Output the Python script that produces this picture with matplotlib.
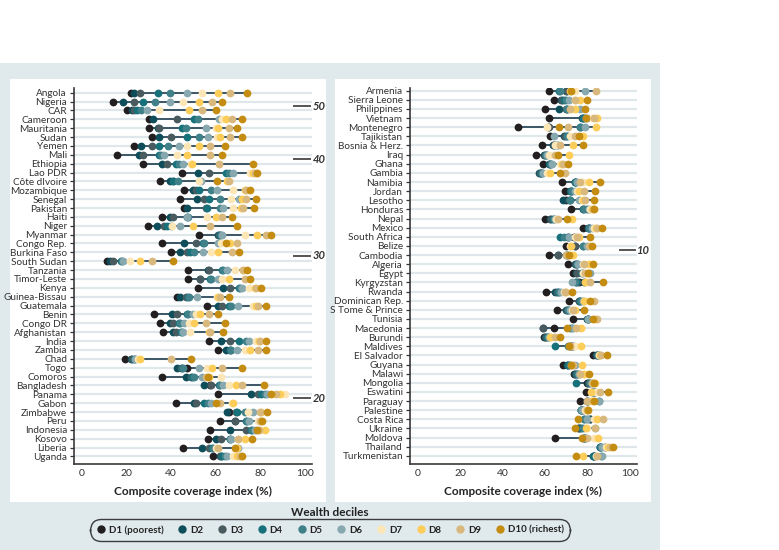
import matplotlib
matplotlib.use("Agg")
import matplotlib.pyplot as plt
from matplotlib.patches import Rectangle
from matplotlib.lines import Line2D

plt.rcParams['font.family'] = ['Lato', 'DejaVu Sans']

# decile colours, D1 (poorest) .. D10 (richest)
decile_labels = ['D1 (poorest)', 'D2', 'D3', 'D4', 'D5', 'D6', 'D7', 'D8', 'D9', 'D10 (richest)']
decile_colors = ['#231f20', '#0e4d5a', '#4a5b60', '#17717b', '#3f8089', '#86a8ae',
                 '#fde6b6', '#fdcd5a', '#d8b87c', '#c48d12']

left_names = ['Angola', 'Nigeria', 'CAR', 'Cameroon', 'Mauritania', 'Sudan', 'Yemen', 'Mali',
              'Ethiopia', 'Lao PDR', 'Côte dIvoire', 'Mozambique', 'Senegal', 'Pakistan',
              'Haiti', 'Niger', 'Myanmar', 'Congo Rep.', 'Burkina Faso', 'South Sudan',
              'Tanzania', 'Timor-Leste', 'Kenya', 'Guinea-Bissau', 'Guatemala', 'Benin',
              'Congo DR', 'Afghanistan', 'India', 'Zambia', 'Chad', 'Togo', 'Comoros',
              'Bangladesh', 'Panama', 'Gabon', 'Zimbabwe', 'Peru', 'Indonesia', 'Kosovo',
              'Liberia', 'Uganda']
# one row per country, D1..D10
left_vals = [
    [22, 23.5, 26, 34, 39.5, 47, 54, 61, 66.5, 74],
    [14, 18.5, 23.5, 27.5, 33, 39.5, 45.5, 52.5, 58.5, 63],
    [20, 22.5, 23.5, 24.5, 26.5, 29, 34.5, 48, 54, 60],
    [30, 32, 42.5, 50.5, 52, 61.5, 63, 64.5, 67.5, 72],
    [30, 34, 34.5, 45, 46.5, 55.5, 60, 61, 66, 69.5],
    [31.5, 34.5, 40, 47, 52.5, 56.5, 60.5, 62, 66.5, 72],
    [23.5, 26.5, 31.5, 34.5, 38.5, 43.5, 47, 52.5, 57.5, 64],
    [15.5, 25.5, 27.5, 34.5, 35.5, 37, 42.5, 47, 57.5, 63],
    [27.5, 36, 38, 42, 43.5, 45.5, 49, 49.5, 61.5, 77],
    [45, 52, 57, 64.5, 66, 68, 75.5, 77, 77.5, 78.5],
    [35, 39.5, 41, 41, 43, 53.5, 52.5, 65, 66, 60.7],
    [46, 50, 51, 52.5, 58, 60.5, 68, 73, 73.5, 75.5],
    [44, 51.5, 55, 57, 62, 70.5, 67, 72, 73.5, 78],
    [46, 47, 55.5, 56, 62, 63.5, 68, 71.5, 72.5, 77.2],
    [36, 39.5, 41, 47, 47.5, 47, 56, 60, 63, 67.5],
    [29.5, 33.5, 37, 38, 40, 44, 40.5, 50, 57.5, 69.5],
    [52.5, 61, 61.5, 62, 62.5, 63, 73, 78.5, 82.5, 85],
    [36, 46, 51, 54.5, 55, 61, 62.5, 66.5, 69.5, 64.5],
    [40, 44, 47, 48.5, 50.5, 54.5, 58, 61, 67.5, 70.5],
    [11, 12.5, 14, 17.5, 18, 18.5, 21.5, 26, 31.5, 41],
    [47.5, 56.5, 57, 63, 63.5, 65, 68.5, 72.5, 72.5, 74],
    [47.5, 53, 53, 57.5, 58, 61, 63, 66, 73, 75.5],
    [52, 63.5, 66.5, 70.5, 71, 72, 75, 77.5, 78, 80.5],
    [42.5, 44, 46.5, 47.5, 48, 51.5, 60.5, 61, 62, 66],
    [56, 61, 63, 66, 67, 70, 77, 78, 79, 82.5],
    [32.5, 40.3, 42.5, 47, 47.5, 50, 51, 53, 57, 61.3],
    [35, 39.5, 41, 43.5, 44, 46, 48, 50.5, 55.5, 64],
    [36.5, 41, 42, 44.5, 45, 45.5, 48.5, 57, 57.5, 63.5],
    [57, 62.5, 66.5, 70.5, 73.5, 75, 78, 79.5, 80, 82.5],
    [61, 64.5, 66.5, 66.5, 67, 69.5, 73, 75.5, 79, 82.5],
    [19.5, 22, 22.5, 23.5, 23.8, 24, 25, 26, 40, 49],
    [47, 42.5, 44.5, 45, 45.5, 52.5, 56, 58.5, 63, 72],
    [36, 46.5, 49, 49.5, 50.5, 54, 62.5, 57, 55.5, 56.5],
    [57.7, 54.8, 58, 61.6, 62, 63.4, 66, 69, 72, 81.7],
    [61, 76, 79, 80.5, 82, 83, 91, 89, 87, 85],
    [42, 50.2, 51, 55, 56.5, 58, 67.5, 68, 62.2, 60.4],
    [66, 65, 69, 69.5, 73, 77, 74.5, 80.5, 80, 83],
    [62, 68.5, 68.6, 73.5, 74, 75, 79, 80.5, 80, 81],
    [57.5, 66.5, 73.5, 76, 76.5, 77.5, 80, 82, 79.5, 78.5],
    [56.5, 60, 62.5, 66.5, 66.6, 67, 70, 73, 70, 76.5],
    [45.5, 54, 57, 58.5, 59, 70, 60, 69.5, 61, 68.5],
    [59, 62, 62.5, 63, 64, 65, 68, 69.7, 71, 72],
]

right_names = ['Armenia', 'Sierra Leone', 'Philippines', 'Vietnam', 'Montenegro', 'Tajikistan',
               'Bosnia & Herz.', 'Iraq', 'Ghana', 'Gambia', 'Namibia', 'Jordan', 'Lesotho',
               'Honduras', 'Nepal', 'Mexico', 'South Africa', 'Belize', 'Cambodia', 'Algeria',
               'Egypt', 'Kyrgyzstan', 'Rwanda', 'Dominican Rep.', 'S Tome & Prince', 'Tunisia',
               'Macedonia', 'Burundi', 'Maldives', 'El Salvador', 'Guyana', 'Malawi', 'Mongolia',
               'Eswatini', 'Paraguay', 'Palestine', 'Costa Rica', 'Ukraine', 'Moldova',
               'Thailand', 'Turkmenistan']
right_vals = [
    [62, 70, 70.5, 66.7, 67, 78.8, 74.4, 71.7, 84, 72.5],
    [64.5, 67.8, 68, 69, 70, 71.2, 74, 76.7, 74.4, 80],
    [60, 66.7, 70, 70.4, 70.5, 76.4, 72.5, 74, 71.7, 79],
    [62, 77.5, 78, 78, 79, 80, 82, 84.5, 83, 79.5],
    [47.3, 61.5, 62, 76.4, 76.5, 79.1, 61, 84.1, 71, 66.8],
    [62.5, 69, 69.5, 70.4, 70.5, 64.5, 72, 77.8, 74, 76],
    [58.5, 64, 64.5, 65, 65.5, 66, 65, 73.3, 67.3, 77.8],
    [56, 59.5, 60, 60.3, 60.5, 61, 62, 71.5, 65, 66],
    [59, 62, 62.3, 62.5, 63, 63.5, 67, 68, 68.5, 70.8],
    [58, 57, 57.5, 58, 58.5, 59, 61, 62.3, 69.3, 67],
    [68, 74, 74.2, 74.4, 74.6, 75, 78, 81, 76.4, 86],
    [69.7, 72, 72.2, 72.5, 73, 74.4, 75, 76, 78.6, 83.8],
    [70, 68.4, 71.5, 71.7, 72, 75.9, 77.5, 78, 79, 83],
    [72.3, 79.9, 78, 78.2, 78.5, 81, 81.5, 82.2, 82.5, 83],
    [60, 62.5, 63, 64, 64.5, 64.8, 65.4, 73, 66, 70.4],
    [78, 80.5, 80.6, 80.8, 81, 82.2, 83, 84, 84.6, 87],
    [73.5, 70.8, 71, 67, 69, 71.5, 74, 76, 75, 81.4],
    [70, 74, 74.2, 78, 78.2, 80, 72, 72.5, 81, 82.2],
    [62, 66, 66.2, 70, 70.2, 70.5, 72, 73.3, 70.1, 71.2],
    [70.8, 74, 74.5, 75, 75.2, 75.5, 78, 80.6, 78.3, 82.5],
    [73.3, 74.7, 75, 77.5, 77.7, 81.4, 78, 80, 79, 80.3],
    [76, 78.6, 75, 74.8, 74, 72.8, 80, 79, 81.4, 87.3],
    [60.6, 65, 65.5, 66, 66.5, 67.5, 69, 70, 69.7, 72.8],
    [71.5, 75.9, 76, 76.5, 77, 78, 79, 78.6, 83.3, 81.1],
    [65.7, 70, 70.5, 70.9, 71, 72, 73, 74, 73.3, 78.6],
    [73.3, 80, 80.1, 80.2, 80.3, 80.2, 83, 84, 84.6, 82.5],
    [64.2, 59, 59.1, 72, 73, 73.1, 75, 77.1, 74.7, 70.4],
    [59.5, 60, 60.5, 61, 61.5, 62, 63, 62.3, 65, 67.3],
    [73.1, 72, 72.5, 65, 71, 72.5, 74, 77.2, 72, 71.2],
    [82.6, 84, 84.5, 85, 85.2, 85.4, 85.4, 86, 86.5, 89.3],
    [68.6, 70.5, 70.8, 71, 72, 74.4, 73, 77.5, 73.3, 72.5],
    [73.9, 74, 74.5, 75, 75.5, 76, 78.3, 78.5, 76.4, 80.6],
    [79.9, 80.5, 81, 74.8, 81.5, 82, 82.5, 83.8, 82.2, 83],
    [79.4, 82, 82.5, 83, 83.5, 83.8, 84, 81.8, 86.2, 89.6],
    [76.4, 79.9, 80, 80.5, 85.4, 85.4, 81, 82, 80, 83],
    [77.8, 76.8, 77, 76.8, 77, 77.5, 79, 80, 79.9, 80.5],
    [81.4, 81.5, 80, 78.3, 78.5, 80, 83, 84.6, 87.4, 75.7],
    [75.5, 76, 76.5, 77, 78, 83.5, 80, 79.6, 83.5, 74.4],
    [64.9, 78, 78.5, 79, 79.1, 79.1, 83, 84.9, 80, 77.5],
    [88.5, 86, 86, 85.9, 86.5, 87, 89, 90, 90.9, 92.1],
    [83, 83, 82.5, 82.7, 86.5, 87, 84, 77.8, 84.6, 74.7],
]

# rank markers at the right edge (row position, label)
left_marks = [(1.5, '50'), (7.5, '40'), (18.4, '30'), (34.45, '20')]
right_marks = [(17.5, '10')]

W, H = 779, 550
bg = '#e0eaed'
grid_c = '#dfe7eb'
text_c = '#333333'

fig = plt.figure(figsize=(W / 100, H / 100), dpi=100)

# background band and white panels (pixel coords -> figure fraction)
def px_rect(x0, y0, x1, y1, color, z):
    fig.add_artist(Rectangle((x0 / W, 1 - y1 / H), (x1 - x0) / W, (y1 - y0) / H,
                             transform=fig.transFigure, facecolor=color,
                             edgecolor='none', zorder=z))

px_rect(0, 63, 660, 550, bg, -20)
px_rect(10, 79, 326, 502, 'white', -19)
px_rect(335, 79, 651, 502, 'white', -19)

XMIN, XMAX = -3.6, 103.3


def draw_panel(ax, names, vals, ylim, marks):
    n = len(names)
    ax.set_facecolor('none')
    ax.set_xlim(XMIN, XMAX)
    ax.set_ylim(*ylim)
    ax.hlines(range(n), XMIN, XMAX, color=grid_c, lw=1.6, zorder=0)
    for i, row in enumerate(vals):
        ax.plot([min(row), max(row)], [i, i], color='#3c5766', lw=1.4,
                solid_capstyle='butt', zorder=2)
        for k, v in enumerate(row):
            ax.plot(v, i, 'o', ms=5.6, mfc=decile_colors[k], mec='none', zorder=3 + k)
    ax.set_yticks(range(n))
    ax.set_yticklabels(names)
    ax.set_xticks([0, 20, 40, 60, 80, 100])
    ax.tick_params(axis='y', length=3, width=0.9, color='#333333', pad=2,
                   labelsize=7.2, labelcolor=text_c)
    ax.tick_params(axis='x', length=0, pad=3.5, labelsize=7.5, labelcolor=text_c)
    for s in ['top', 'right']:
        ax.spines[s].set_visible(False)
    for s in ['left', 'bottom']:
        ax.spines[s].set_color('#3a3a3a')
        ax.spines[s].set_linewidth(1.2)
    ax.set_xlabel('Composite coverage index (%)', fontsize=8.5, fontweight='bold',
                  color='#222222', labelpad=6)
    for y, lab in marks:
        ax.plot([95.2, 102.3], [y, y], color='#555555', lw=1.4, clip_on=False, zorder=4)
        ax.text(103.6, y, lab, ha='left', va='center', fontsize=8, fontweight='bold',
                fontstyle='italic', color='#333333', clip_on=False)


ax_l = fig.add_axes([74 / W, 1 - 464 / H, 238 / W, 376 / H])
ax_r = fig.add_axes([410 / W, 1 - 464 / H, 226.7 / W, 376 / H])
draw_panel(ax_l, left_names, left_vals, (41.86, -0.53), left_marks)
draw_panel(ax_r, right_names, right_vals, (40.9, -0.3), right_marks)

# legend
handles = [Line2D([], [], marker='o', ls='none', ms=6, mfc=c, mec='none', label=l)
           for c, l in zip(decile_colors, decile_labels)]
fig.text(330 / W, 1 - 512 / H, 'Wealth deciles', ha='center', va='center',
         fontsize=8.5, fontweight='bold', color='#222222')
leg = fig.legend(handles=handles, loc='center', bbox_to_anchor=(330 / W, 1 - 530 / H),
                 ncol=10, frameon=True, prop={'size': 7, 'weight': 'bold'},
                 handletextpad=0.3, columnspacing=1.45, handlelength=1.0,
                 borderpad=0.45, fancybox=True)
frame = leg.get_frame()
frame.set_facecolor('none')
frame.set_edgecolor('#111111')
frame.set_linewidth(1.0)
frame.set_boxstyle('round,pad=0.2,rounding_size=1.2')
for t in leg.get_texts():
    t.set_color('#222222')

fig.savefig('out.png', dpi=100)
